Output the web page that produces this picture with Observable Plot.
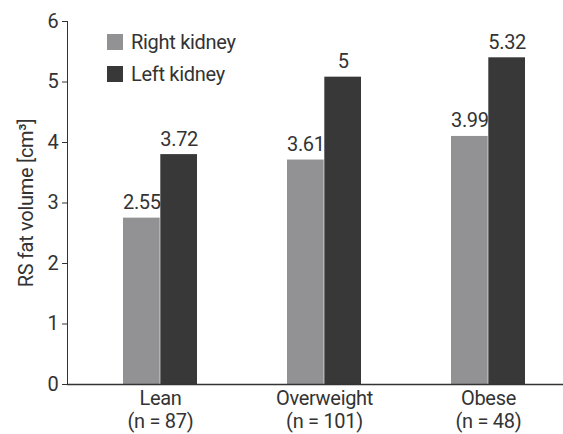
<!DOCTYPE html>
<html>
<head>
<meta charset="utf-8">
<script src="https://cdn.jsdelivr.net/npm/d3@7"></script>
<script src="https://cdn.jsdelivr.net/npm/@observablehq/plot@0.6"></script>
<style>
  html, body { margin: 0; padding: 0; background: #fff; }
  #wrap { position: relative; width: 563px; height: 434px; font-family: Roboto, "Noto Sans", sans-serif; }
  #legend { position: absolute; left: 107px; top: 26px; }
  #legend .lg-swatches { font-size: 20px; color: #333; font-family: Roboto, sans-serif; }
  #legend .lg-swatch { display: flex; align-items: center; height: 31px; margin: 0; letter-spacing: -0.3px; }
  #legend .lg-swatch svg { margin-right: 8px; }
</style>
</head>
<body>
<div id="wrap"><div id="chart"></div><div id="legend"></div></div>
<script>
// ---- data ----
const groups = ["Lean\n(n = 87)", "Overweight\n(n = 101)", "Obese\n(n = 48)"];
const series = ["Right kidney", "Left kidney"];
const colors = ["#929294", "#383838"];
// printed value labels
const rightLabels = ["2.55", "3.61", "3.99"];
const leftLabels = ["3.72", "5", "5.32"];
// bar heights as drawn in the picture
const rightHeights = [2.75, 3.71, 4.10];
const leftHeights = [3.80, 5.08, 5.40];
const yTicks = [0, 1, 2, 3, 4, 5, 6];

const right = groups.map((g, i) => ({group: g, value: rightHeights[i], label: rightLabels[i], series: series[0]}));
const left = groups.map((g, i) => ({group: g, value: leftHeights[i], label: leftLabels[i], series: series[1]}));

const font = "Roboto, \"Noto Sans\", sans-serif";
const half = 37.3;

const chart = Plot.plot({
  width: 563,
  height: 434,
  marginLeft: 67,
  marginRight: 0,
  marginTop: 21,
  marginBottom: 50,
  style: {fontFamily: font, fontSize: "20px", color: "#333", background: "#fff", letterSpacing: "-0.3px"},
  x: {domain: groups, paddingInner: 0.546, paddingOuter: 0.2815, align: 0.596, axis: null},
  y: {domain: [0, 6], ticks: yTicks, tickFormat: d => String(d), tickSize: 5, tickPadding: 4, line: true,
      label: "RS fat volume [cm³]", labelAnchor: "center", labelArrow: "none", labelOffset: 49},
  color: {domain: series, range: colors},
  marks: [
    Plot.barY(right, {x: "group", y: "value", fill: "series", insetRight: half}),
    Plot.barY(left, {x: "group", y: "value", fill: "series", insetLeft: half}),
    Plot.text(right, {x: "group", y: "value", text: "label", dx: -half / 2, dy: -9, lineAnchor: "bottom", fill: "#333", fontSize: 20}),
    Plot.text(left, {x: "group", y: "value", text: "label", dx: half / 2, dy: -9, lineAnchor: "bottom", fill: "#333", fontSize: 20}),
    Plot.axisX({tickSize: 0, tickPadding: 5, fontSize: 20, fill: "#333", lineHeight: 1.12, label: null}),
    Plot.ruleY([0], {stroke: "#333", strokeWidth: 1.3})
  ]
});
document.getElementById("chart").appendChild(chart);

const legend = Plot.legend({
  color: {domain: series, range: colors},
  legend: "swatches",
  columns: 1,
  swatchSize: 16,
  className: "lg"
});
document.getElementById("legend").appendChild(legend);
</script>
</body>
</html>
